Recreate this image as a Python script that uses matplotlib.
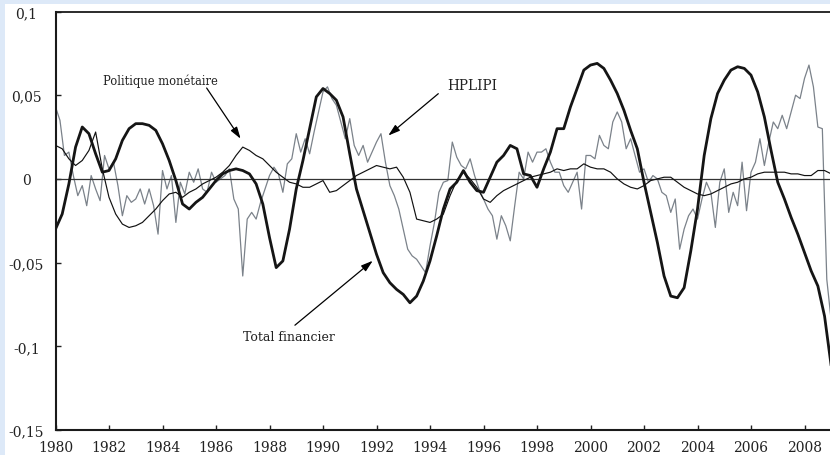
import numpy as np
import matplotlib
matplotlib.use('Agg')
import matplotlib.pyplot as plt
from matplotlib.patches import Rectangle

# ---- data ----
# Total financier, quarterly from 1980.0
total = [
    -0.030, -0.021, -0.003, 0.019,
    0.031, 0.027, 0.015, 0.004,
    0.005, 0.012, 0.023, 0.030,
    0.033, 0.033, 0.032, 0.029,
    0.021, 0.011, -0.001, -0.015,
    -0.018, -0.014, -0.011, -0.006,
    -0.001, 0.003, 0.005, 0.006,
    0.005, 0.003, -0.003, -0.015,
    -0.035, -0.053, -0.049, -0.030,
    -0.006, 0.011, 0.030, 0.049,
    0.054, 0.051, 0.047, 0.037,
    0.015, -0.006, -0.019, -0.032,
    -0.045, -0.056, -0.062, -0.066,
    -0.069, -0.074, -0.070, -0.061,
    -0.049, -0.034, -0.018, -0.006,
    -0.002, 0.005, -0.002, -0.007,
    -0.008, 0.001, 0.010, 0.014,
    0.020, 0.018, 0.003, 0.002,
    -0.005, 0.006, 0.016, 0.030,
    0.030, 0.043, 0.054, 0.065,
    0.068, 0.069, 0.066, 0.059,
    0.051, 0.041, 0.029, 0.018,
    -0.002, -0.020, -0.038, -0.058,
    -0.070, -0.071, -0.065, -0.043,
    -0.018, 0.014, 0.036, 0.051,
    0.059, 0.065, 0.067, 0.066,
    0.062, 0.052, 0.037, 0.017,
    -0.002, -0.012, -0.023, -0.033,
    -0.044, -0.055, -0.064, -0.082,
    -0.112,
]

# Politique monétaire, quarterly from 1980.0
politique = [
    0.020, 0.018, 0.012, 0.008,
    0.011, 0.017, 0.028, 0.006,
    -0.011, -0.021, -0.027, -0.029,
    -0.028, -0.026, -0.022, -0.018,
    -0.013, -0.009, -0.008, -0.011,
    -0.008, -0.006, -0.003, -0.001,
    0.001, 0.004, 0.008, 0.014,
    0.019, 0.017, 0.014, 0.012,
    0.008, 0.004, 0.001, -0.002,
    -0.003, -0.005, -0.005, -0.003,
    -0.001, -0.008, -0.007, -0.004,
    -0.001, 0.002, 0.004, 0.006,
    0.008, 0.007, 0.006, 0.007,
    0.001, -0.008, -0.024, -0.025,
    -0.026, -0.024, -0.021, -0.010,
    -0.001, 0.004, 0.000, -0.005,
    -0.012, -0.014, -0.010, -0.007,
    -0.005, -0.003, -0.001, 0.001,
    0.002, 0.003, 0.004, 0.006,
    0.005, 0.006, 0.006, 0.009,
    0.007, 0.006, 0.006, 0.004,
    0.000, -0.003, -0.005, -0.006,
    -0.004, -0.001, 0.000, 0.001,
    0.001, -0.002, -0.005, -0.007,
    -0.009, -0.010, -0.009, -0.007,
    -0.005, -0.003, -0.002, 0.000,
    0.001, 0.003, 0.004, 0.004,
    0.004, 0.004, 0.003, 0.003,
    0.002, 0.002, 0.005, 0.005,
    0.003,
]

# HPLIPI, every two months from 1980.0
hplipi = [
    0.043, 0.035, 0.014, 0.016, 0.002, -0.010,
    -0.004, -0.016, 0.002, -0.006, -0.013, 0.014,
    0.006, 0.010, -0.004, -0.022, -0.010, -0.014,
    -0.012, -0.006, -0.015, -0.006, -0.016, -0.033,
    0.005, -0.006, 0.002, -0.026, -0.002, -0.009,
    0.004, -0.002, 0.006, -0.006, -0.008, 0.004,
    -0.002, 0.000, 0.002, 0.006, -0.012, -0.018,
    -0.058, -0.024, -0.020, -0.024, -0.014, -0.006,
    0.002, 0.007, 0.003, -0.008, 0.009, 0.012,
    0.027, 0.016, 0.024, 0.015, 0.028, 0.040,
    0.052, 0.055, 0.048, 0.044, 0.034, 0.024,
    0.036, 0.020, 0.014, 0.020, 0.010, 0.016,
    0.022, 0.027, 0.010, -0.004, -0.010, -0.018,
    -0.030, -0.042, -0.046, -0.048, -0.052, -0.056,
    -0.040, -0.026, -0.008, -0.002, -0.001, 0.022,
    0.013, 0.008, 0.006, 0.012, 0.002, -0.006,
    -0.012, -0.018, -0.022, -0.036, -0.022, -0.028,
    -0.037, -0.016, 0.004, 0.000, 0.016, 0.010,
    0.016, 0.016, 0.018, 0.010, 0.004, 0.004,
    -0.004, -0.008, -0.002, 0.004, -0.018, 0.014,
    0.014, 0.012, 0.026, 0.020, 0.018, 0.034,
    0.040, 0.034, 0.018, 0.024, 0.014, 0.004,
    0.006, -0.002, 0.002, 0.000, -0.008, -0.010,
    -0.020, -0.012, -0.042, -0.030, -0.022, -0.018,
    -0.024, -0.012, -0.002, -0.008, -0.029, -0.002,
    0.006, -0.020, -0.008, -0.016, 0.010, -0.019,
    0.004, 0.010, 0.024, 0.008, 0.022, 0.034,
    0.030, 0.038, 0.030, 0.040, 0.050, 0.048,
    0.060, 0.068, 0.055, 0.031, 0.030, -0.060,
    -0.085,
]

x_ticks = list(range(1980, 2009, 2))
y_ticks = [-0.15, -0.1, -0.05, 0.0, 0.05, 0.1]
y_tick_labels = ['-0,15', '-0,1', '-0,05', '0', '0,05', '0,1']

t_q = 1980 + 0.25 * np.arange(len(total))
t_q2 = 1980 + 0.25 * np.arange(len(politique))
t_b = 1980 + np.arange(len(hplipi)) / 6.0

# ---- figure ----
W, H = 830, 456
fig = plt.figure(figsize=(W / 100, H / 100), dpi=100)
fig.patch.set_facecolor('#dde9f8')
fig.add_artist(Rectangle((5 / W, 0), 1, (H - 4.5) / H, transform=fig.transFigure,
                         facecolor='white', edgecolor='none', zorder=-10))

ax = fig.add_axes([55.5 / W, 25 / H, (W - 55.5) / W, (431 - 12.5) / H])
ax.set_facecolor('white')

ax.plot(t_b, hplipi, color='#7b828a', lw=0.9, zorder=2)
ax.axhline(0, color='#333333', lw=0.9, zorder=2.5)
ax.plot(t_q2, politique, color='#111111', lw=0.85, zorder=3)
ax.plot(t_q, total, color='#151515', lw=2.0, zorder=4, solid_joinstyle='round')

ax.set_xlim(1980, 1980 + (W - 55.5) / 26.75)
ax.set_ylim(-0.15, 0.1)

serif = 'DejaVu Serif'
ax.set_xticks(x_ticks)
ax.set_xticklabels([str(v) for v in x_ticks], fontfamily=serif, fontsize=10, color='#222222')
ax.set_yticks(y_ticks)
ax.set_yticklabels(y_tick_labels, fontfamily=serif, fontsize=10, color='#222222')
for lab in ax.get_yticklabels():
    lab.set_ha('center')

ax.tick_params(axis='both', direction='in', length=3.5, width=1.0, color='#222222')
ax.tick_params(axis='y', pad=21)
ax.tick_params(axis='x', pad=7)

for s in ['left', 'bottom']:
    ax.spines[s].set_linewidth(1.5)
    ax.spines[s].set_color('#1a1a1a')
ax.spines['top'].set_linewidth(1.3)
ax.spines['top'].set_color('#1a1a1a')
ax.spines['right'].set_visible(False)

# ---- annotations ----
arrow = dict(arrowstyle='-|>,head_length=0.7,head_width=0.22', color='black',
             lw=0.9, shrinkA=0, shrinkB=0)
ax.text(1983.91, 0.0587, 'Politique monétaire', fontfamily=serif, fontsize=8.3,
        ha='center', va='center', color='#222222')
ax.annotate('', xy=(1986.92, 0.024), xytext=(1985.65, 0.0543), arrowprops=arrow)

ax.text(1995.57, 0.0563, 'HPLIPI', fontfamily=serif, fontsize=9.8,
        ha='center', va='center', color='#222222')
ax.annotate('', xy=(1992.44, 0.0259), xytext=(1994.31, 0.0509), arrowprops=arrow)

ax.text(1988.72, -0.094, 'Total financier', fontfamily=serif, fontsize=9,
        ha='center', va='center', color='#222222')
ax.annotate('', xy=(1991.86, -0.0489), xytext=(1988.95, -0.0874), arrowprops=arrow)

fig.savefig('out.png', dpi=100, facecolor=fig.get_facecolor())
